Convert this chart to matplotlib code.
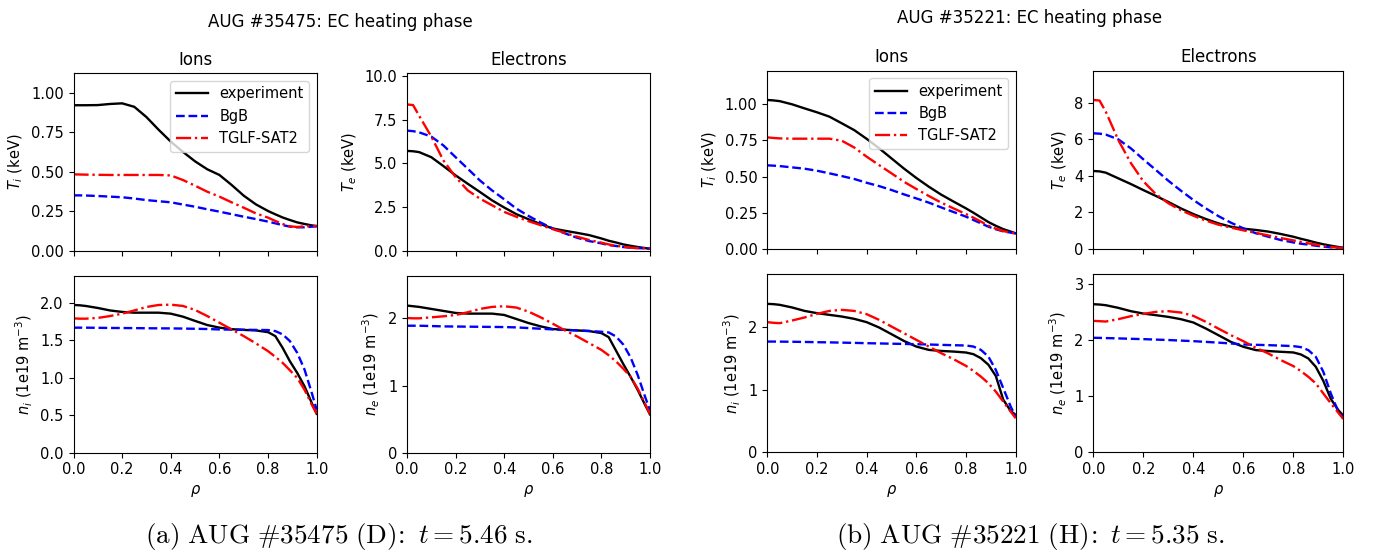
import matplotlib
matplotlib.use("Agg")
import matplotlib.pyplot as plt

plt.rcParams["mathtext.fontset"] = "dejavusans"

W, H = 1381, 554

# normalised radius, common grid for all profiles
rho = [0, 0.025, 0.05, 0.1, 0.15, 0.2, 0.25, 0.3, 0.35, 0.4, 0.45, 0.5, 0.55,
       0.6, 0.65, 0.7, 0.75, 0.8, 0.83, 0.86, 0.89, 0.92, 0.95, 0.98, 1.0]

# ---- AUG #35475 (D) ----
a_ti_exp = [0.92, 0.92, 0.92, 0.921, 0.928, 0.932, 0.91, 0.845, 0.765, 0.69, 0.625, 0.565, 0.515,
            0.479, 0.416, 0.348, 0.293, 0.251, 0.23, 0.21, 0.194, 0.179, 0.169, 0.16, 0.156]
a_ti_bgb = [0.35, 0.35, 0.349, 0.346, 0.342, 0.338, 0.33, 0.32, 0.313, 0.306, 0.292, 0.278, 0.262,
            0.247, 0.231, 0.215, 0.2, 0.184, 0.173, 0.162, 0.152, 0.148, 0.148, 0.152, 0.154]
a_ti_tglf = [0.483, 0.482, 0.481, 0.48, 0.479, 0.479, 0.479, 0.479, 0.479, 0.476, 0.447, 0.411, 0.373,
             0.342, 0.306, 0.272, 0.236, 0.209, 0.188, 0.169, 0.154, 0.15, 0.154, 0.156, 0.156]

a_te_exp = [5.71, 5.69, 5.64, 5.35, 4.84, 4.31, 3.83, 3.36, 2.88, 2.47, 2.09, 1.80, 1.52,
            1.27, 1.14, 1.02, 0.89, 0.70, 0.57, 0.47, 0.36, 0.28, 0.21, 0.15, 0.11]
a_te_bgb = [6.87, 6.84, 6.77, 6.53, 6.02, 5.35, 4.69, 4.02, 3.45, 2.94, 2.41, 1.99, 1.61,
            1.27, 0.99, 0.74, 0.55, 0.42, 0.32, 0.27, 0.21, 0.17, 0.15, 0.13, 0.11]
a_te_tglf = [8.37, 8.33, 7.72, 6.53, 5.16, 4.21, 3.45, 2.98, 2.60, 2.22, 1.94, 1.69, 1.46,
             1.23, 1.02, 0.80, 0.61, 0.46, 0.36, 0.28, 0.23, 0.17, 0.15, 0.13, 0.11]

a_ni_exp = [1.973, 1.969, 1.96, 1.933, 1.90, 1.88, 1.87, 1.87, 1.87, 1.857, 1.817, 1.76, 1.705,
            1.67, 1.65, 1.64, 1.633, 1.61, 1.557, 1.40, 1.22, 1.065, 0.886, 0.662, 0.52]
a_ni_bgb = [1.67, 1.67, 1.67, 1.668, 1.666, 1.665, 1.664, 1.662, 1.661, 1.66, 1.658, 1.655, 1.652,
            1.646, 1.644, 1.642, 1.64, 1.638, 1.624, 1.58, 1.49, 1.333, 1.11, 0.796, 0.573]
a_ni_tglf = [1.794, 1.79, 1.79, 1.80, 1.825, 1.857, 1.90, 1.946, 1.973, 1.977, 1.96, 1.906, 1.825,
             1.736, 1.647, 1.557, 1.46, 1.356, 1.28, 1.20, 1.10, 0.998, 0.84, 0.64, 0.52]

a_ne_exp = [2.19, 2.18, 2.17, 2.14, 2.11, 2.08, 2.07, 2.07, 2.07, 2.05, 1.99, 1.93, 1.88,
            1.84, 1.83, 1.82, 1.81, 1.78, 1.72, 1.52, 1.32, 1.13, 0.93, 0.71, 0.57]
a_ne_bgb = [1.89, 1.89, 1.89, 1.885, 1.88, 1.878, 1.876, 1.874, 1.872, 1.87, 1.865, 1.855, 1.845,
            1.835, 1.828, 1.82, 1.812, 1.80, 1.79, 1.73, 1.61, 1.42, 1.15, 0.83, 0.63]
a_ne_tglf = [2.005, 2.0, 2.0, 2.015, 2.03, 2.05, 2.09, 2.14, 2.17, 2.18, 2.16, 2.10, 2.015,
             1.92, 1.82, 1.73, 1.63, 1.53, 1.45, 1.36, 1.25, 1.13, 0.95, 0.73, 0.57]

# ---- AUG #35221 (H) ----
b_ti_exp = [1.028, 1.025, 1.02, 0.998, 0.97, 0.943, 0.913, 0.867, 0.82, 0.76, 0.695, 0.625, 0.555,
            0.49, 0.43, 0.375, 0.327, 0.28, 0.25, 0.218, 0.186, 0.16, 0.137, 0.12, 0.108]
b_ti_bgb = [0.577, 0.575, 0.572, 0.563, 0.554, 0.54, 0.522, 0.503, 0.483, 0.457, 0.434, 0.407, 0.377,
            0.349, 0.32, 0.287, 0.255, 0.223, 0.20, 0.177, 0.154, 0.136, 0.122, 0.113, 0.108]
b_ti_tglf = [0.77, 0.766, 0.763, 0.761, 0.761, 0.761, 0.761, 0.747, 0.70, 0.637, 0.579, 0.522, 0.464,
             0.414, 0.366, 0.32, 0.28, 0.241, 0.216, 0.189, 0.161, 0.14, 0.124, 0.113, 0.106]

b_te_exp = [4.26, 4.24, 4.17, 3.86, 3.55, 3.22, 2.90, 2.57, 2.22, 1.91, 1.64, 1.40, 1.22,
            1.11, 1.04, 0.95, 0.82, 0.67, 0.56, 0.46, 0.35, 0.26, 0.18, 0.11, 0.07]
b_te_bgb = [6.32, 6.30, 6.25, 5.99, 5.50, 4.90, 4.32, 3.73, 3.19, 2.68, 2.22, 1.80, 1.44,
            1.13, 0.86, 0.67, 0.49, 0.36, 0.29, 0.24, 0.18, 0.13, 0.09, 0.07, 0.05]
b_te_tglf = [8.14, 8.11, 7.5, 5.95, 4.7, 3.7, 3.0, 2.5, 2.12, 1.82, 1.55, 1.33, 1.17,
             1.02, 0.88, 0.74, 0.60, 0.47, 0.39, 0.31, 0.24, 0.17, 0.11, 0.07, 0.05]

b_ni_exp = [2.373, 2.368, 2.357, 2.315, 2.26, 2.224, 2.197, 2.17, 2.133, 2.08, 1.995, 1.888, 1.78,
            1.69, 1.637, 1.62, 1.61, 1.595, 1.568, 1.504, 1.40, 1.22, 0.84, 0.66, 0.597]
b_ni_bgb = [1.77, 1.77, 1.769, 1.767, 1.764, 1.76, 1.757, 1.753, 1.749, 1.744, 1.74, 1.736, 1.732,
            1.728, 1.723, 1.717, 1.712, 1.707, 1.69, 1.637, 1.53, 1.317, 1.024, 0.73, 0.57]
b_ni_tglf = [2.08, 2.07, 2.064, 2.107, 2.155, 2.213, 2.26, 2.277, 2.26, 2.208, 2.117, 2.01, 1.904,
             1.797, 1.69, 1.584, 1.488, 1.381, 1.30, 1.21, 1.104, 0.97, 0.81, 0.65, 0.544]

b_ne_exp = [2.633, 2.627, 2.615, 2.568, 2.509, 2.467, 2.438, 2.408, 2.367, 2.308, 2.201, 2.083, 1.964,
            1.876, 1.817, 1.80, 1.787, 1.775, 1.74, 1.669, 1.52, 1.27, 0.95, 0.75, 0.65]
b_ne_bgb = [2.036, 2.034, 2.031, 2.025, 2.018, 2.012, 2.004, 1.996, 1.986, 1.976, 1.963, 1.95, 1.935,
            1.917, 1.911, 1.905, 1.897, 1.888, 1.87, 1.817, 1.698, 1.432, 1.047, 0.722, 0.615]
b_ne_tglf = [2.337, 2.331, 2.325, 2.367, 2.42, 2.46, 2.497, 2.509, 2.485, 2.426, 2.32, 2.20, 2.083,
             1.976, 1.858, 1.757, 1.639, 1.533, 1.444, 1.343, 1.225, 1.047, 0.87, 0.704, 0.592]

labels = ["experiment", "BgB", "TGLF-SAT2"]
styles = [dict(color="black", ls="-"), dict(color="blue", ls="--"), dict(color="red", ls="-.")]

ylabels = [r"$T_i$ (keV)", r"$T_e$ (keV)", r"$n_i$ (1e19 m$^{-3}$)", r"$n_e$ (1e19 m$^{-3}$)"]

# one entry per shot: (profiles, ylim tops, yticks, axes rects in pixels (left, top, right, bottom))
shots = [
    dict(
        data=[(a_ti_exp, a_ti_bgb, a_ti_tglf), (a_te_exp, a_te_bgb, a_te_tglf),
              (a_ni_exp, a_ni_bgb, a_ni_tglf), (a_ne_exp, a_ne_bgb, a_ne_tglf)],
        ytop=[1.122, 10.15, 2.36, 2.63],
        yticks=[[0, 0.25, 0.5, 0.75, 1.0], [0, 2.5, 5.0, 7.5, 10.0],
                [0, 0.5, 1.0, 1.5, 2.0], [0, 1, 2]],
        yfmt=["{:.2f}", "{:.1f}", "{:.1f}", "{:.0f}"],
        rects=[(73.5, 73.3, 316.7, 250.7), (407, 73.3, 650, 250.7),
               (73.5, 276, 316.7, 452.7), (407, 276, 650, 452.7)],
        title="AUG #35475: EC heating phase", title_xy=(340, 22),
        caption=r"$\mathrm{(a)\ AUG\ \#35475\ (D)\!:}\ t=5.46\ \mathrm{s.}$", cap_x=339,
    ),
    dict(
        data=[(b_ti_exp, b_ti_bgb, b_ti_tglf), (b_te_exp, b_te_bgb, b_te_tglf),
              (b_ni_exp, b_ni_bgb, b_ni_tglf), (b_ne_exp, b_ne_bgb, b_ne_tglf)],
        ytop=[1.23, 9.74, 2.85, 3.17],
        yticks=[[0, 0.25, 0.5, 0.75, 1.0], [0, 2, 4, 6, 8], [0, 1, 2], [0, 1, 2, 3]],
        yfmt=["{:.2f}", "{:.0f}", "{:.0f}", "{:.0f}"],
        rects=[(767.3, 70.7, 1015.7, 249), (1093.3, 70.7, 1343.3, 249),
               (767.3, 274, 1015.7, 452.3), (1093.3, 274, 1343.3, 452.3)],
        title="AUG #35221: EC heating phase", title_xy=(1030, 18),
        caption=r"$\mathrm{(b)\ AUG\ \#35221\ (H)\!:}\ t=5.35\ \mathrm{s.}$", cap_x=1030,
    ),
]

fig = plt.figure(figsize=(W / 100, H / 100), dpi=100)

for shot in shots:
    for k in range(4):
        l, t, r, b = shot["rects"][k]
        ax = fig.add_axes([l / W, 1 - b / H, (r - l) / W, (b - t) / H])
        for series, lab, st in zip(shot["data"][k], labels, styles):
            ax.plot(rho, series, lw=1.7, label=lab, **st)
        ax.set_xlim(0, 1)
        ax.set_ylim(0, shot["ytop"][k])
        ax.set_yticks(shot["yticks"][k])
        ax.set_yticklabels([shot["yfmt"][k].format(v) for v in shot["yticks"][k]])
        ax.set_xticks([0, 0.2, 0.4, 0.6, 0.8, 1.0])
        ax.tick_params(labelsize=10.5)
        ax.set_ylabel(ylabels[k], fontsize=10.5)
        if k < 2:
            ax.set_xticklabels([])
            ax.set_title(["Ions", "Electrons"][k], fontsize=12, pad=6)
        else:
            ax.set_xlabel(r"$\rho$", fontsize=10.5)
        if k == 0:
            ax.legend(loc="upper right", fontsize=10.5, handlelength=2.2)

    tx, ty = shot["title_xy"]
    fig.text(tx / W, 1 - ty / H, shot["title"], ha="center", va="center", fontsize=12)
    fig.text(shot["cap_x"] / W, 1 - 537 / H, shot["caption"], ha="center", va="center",
             fontsize=19.5, math_fontfamily="cm")

fig.savefig("out.png", dpi=100)
